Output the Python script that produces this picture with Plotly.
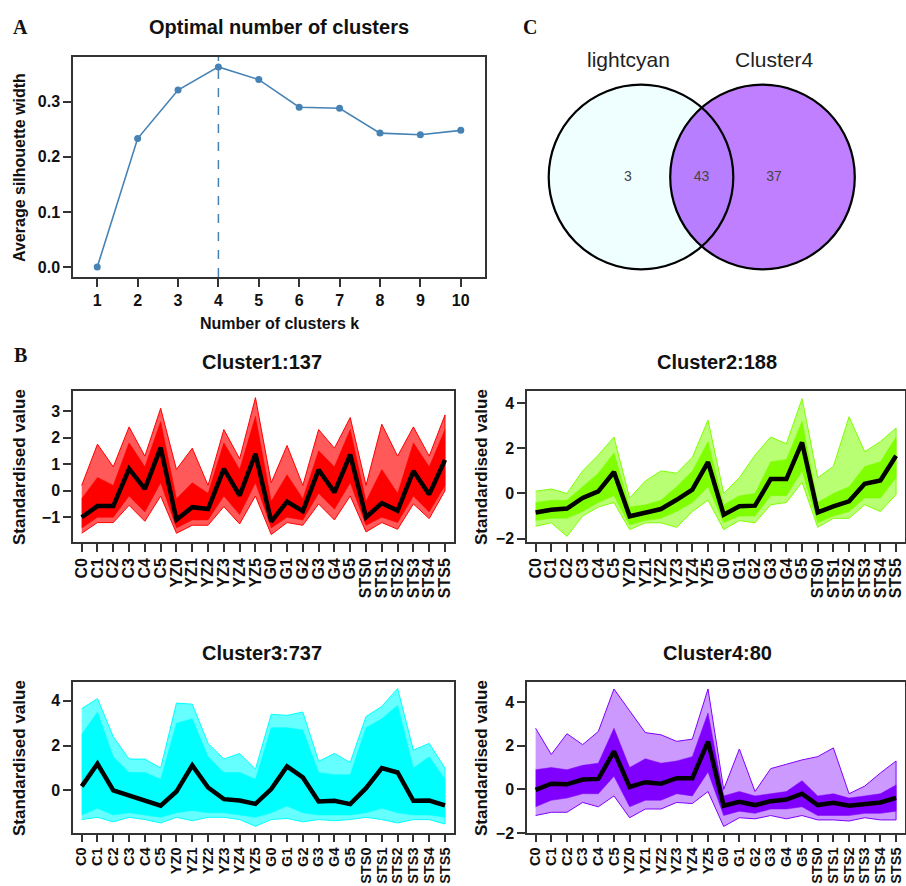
import plotly.graph_objects as go

W, H = 906, 886

# ---------------- data ----------------
k_values = list(range(1, 11))
silhouette = [0.0, 0.233, 0.321, 0.363, 0.340, 0.290, 0.288, 0.243, 0.240, 0.248]
optimal_k = 4

samples = ["C0", "C1", "C2", "C3", "C4", "C5",
           "YZ0", "YZ1", "YZ2", "YZ3", "YZ4", "YZ5",
           "G0", "G1", "G2", "G3", "G4", "G5",
           "STS0", "STS1", "STS2", "STS3", "STS4", "STS5"]

cluster_titles = ["Cluster1:137", "Cluster2:188", "Cluster3:737", "Cluster4:80"]
cluster_colors = ["#FF0000", "#7FFF00", "#00FFFF", "#8000FF"]

c1_mean = [-1.00, -0.58, -0.58, 0.82, 0.07, 1.62, -1.09, -0.62, -0.69, 0.82, -0.18, 1.39,
           -1.16, -0.41, -0.77, 0.79, -0.06, 1.36, -1.00, -0.47, -0.75, 0.74, -0.14, 1.16]
c1_max = [0.20, 1.75, 0.90, 2.40, 1.30, 3.10, 0.80, 1.60, 0.20, 2.30, 1.20, 3.50,
          0.30, 1.70, 0.20, 2.30, 1.60, 2.75, 0.20, 2.50, 1.30, 2.40, 1.30, 2.85]
c1_min = [-1.60, -1.20, -1.20, -0.55, -1.15, -0.20, -1.60, -1.30, -1.30, -0.60, -1.25, -0.20,
          -1.65, -1.20, -1.30, -0.50, -1.10, -0.20, -1.55, -1.20, -1.45, -0.50, -1.05, 0.00]
c1_core_hi = [-0.30, 0.50, 0.20, 1.80, 0.90, 2.60, -0.30, 0.30, -0.10, 1.80, 0.80, 2.80,
              -0.40, 0.60, -0.30, 1.50, 0.90, 2.30, -0.40, 0.80, -0.10, 1.80, 0.90, 2.30]
c1_core_lo = [-1.40, -1.00, -1.00, -0.20, -0.80, 0.30, -1.40, -1.10, -1.10, -0.20, -0.90, 0.30,
              -1.40, -1.00, -1.10, -0.10, -0.70, 0.30, -1.30, -1.00, -1.20, -0.20, -0.80, 0.20]

c2_mean = [-0.84, -0.72, -0.67, -0.20, 0.09, 0.95, -1.01, -0.87, -0.69, -0.28, 0.17, 1.39,
           -0.94, -0.57, -0.54, 0.64, 0.64, 2.26, -0.84, -0.57, -0.35, 0.43, 0.58, 1.67]
c2_max = [0.10, 0.20, 0.00, 1.00, 1.70, 2.50, -0.20, 0.55, 1.00, 0.90, 1.60, 3.25,
          0.00, 0.70, 1.70, 2.50, 2.20, 4.20, 0.70, 1.20, 3.40, 1.85, 2.30, 2.90]
c2_min = [-1.45, -1.30, -1.90, -1.00, -0.60, -0.40, -1.60, -1.30, -1.30, -1.50, -0.80, -0.30,
          -1.60, -1.20, -1.30, -0.50, -0.40, 0.50, -1.50, -1.10, -1.10, -0.50, -0.80, -0.05]
c2_core_hi = [-0.40, -0.30, -0.30, 0.30, 0.90, 1.80, -0.60, -0.50, -0.30, 0.30, 1.00, 2.30,
              -0.50, -0.10, 0.00, 1.40, 1.50, 3.20, -0.40, 0.00, 0.30, 1.20, 1.40, 2.50]
c2_core_lo = [-1.20, -1.10, -1.10, -0.80, -0.40, -0.10, -1.40, -1.20, -1.10, -0.80, -0.40, 0.30,
              -1.30, -1.00, -1.00, -0.10, -0.10, 1.00, -1.30, -1.00, -0.80, -0.20, -0.20, 0.70]

c3_mean = [0.18, 1.19, 0.00, -0.24, -0.45, -0.68, -0.05, 1.12, 0.13, -0.39, -0.45, -0.60,
           0.06, 1.07, 0.58, -0.49, -0.46, -0.61, 0.10, 1.00, 0.80, -0.46, -0.45, -0.67]
c3_max = [3.65, 4.10, 2.40, 1.40, 1.40, 1.00, 3.90, 3.85, 2.10, 1.40, 1.65, 0.95,
          3.40, 3.35, 3.50, 1.30, 1.65, 1.25, 3.30, 3.75, 4.55, 1.80, 2.10, 1.00]
c3_min = [-1.30, -1.20, -1.40, -1.20, -1.30, -1.45, -1.20, -1.35, -1.20, -1.20, -1.30, -1.60,
          -1.30, -1.25, -1.40, -1.30, -1.35, -1.30, -1.20, -1.30, -1.45, -1.30, -1.30, -1.50]
c3_core_hi = [2.50, 3.50, 1.50, 0.80, 0.80, 0.50, 3.00, 3.20, 1.50, 0.80, 0.80, 0.50,
              2.80, 2.80, 2.70, 0.80, 0.70, 0.70, 2.80, 3.20, 3.80, 1.00, 1.50, 0.50]
c3_core_lo = [-1.10, -0.80, -1.10, -1.00, -1.10, -1.20, -1.00, -0.90, -1.00, -1.00, -1.10, -1.20,
              -1.00, -0.70, -1.00, -1.10, -1.10, -1.10, -1.00, -0.80, -1.00, -1.10, -1.10, -1.20]

c4_mean = [-0.02, 0.26, 0.23, 0.45, 0.48, 1.74, 0.11, 0.33, 0.26, 0.51, 0.51, 2.19,
           -0.75, -0.57, -0.72, -0.54, -0.47, -0.20, -0.72, -0.62, -0.75, -0.65, -0.60, -0.39]
c4_max = [2.80, 1.60, 2.55, 2.05, 2.65, 4.60, 3.60, 2.60, 2.50, 2.20, 2.30, 4.60,
          0.00, 1.85, -0.10, 0.95, 1.15, 1.35, 1.50, 1.90, -0.20, 0.15, 0.75, 1.30]
c4_min = [-1.20, -1.05, -1.05, -0.60, -0.80, -0.30, -1.30, -0.90, -0.90, -0.60, -0.65, -0.10,
          -1.70, -1.30, -1.35, -1.20, -1.35, -1.20, -1.40, -1.40, -1.45, -1.30, -1.40, -1.40]
c4_core_hi = [0.90, 1.00, 0.90, 1.10, 1.20, 2.80, 1.00, 1.40, 1.20, 1.30, 1.50, 3.50,
              -0.30, -0.10, -0.30, -0.20, -0.10, 0.40, -0.30, -0.20, -0.40, -0.30, -0.20, 0.20]
c4_core_lo = [-0.80, -0.50, -0.40, -0.20, -0.20, 0.60, -0.80, -0.50, -0.50, -0.20, -0.30, 0.80,
              -1.20, -1.00, -1.10, -0.90, -0.90, -0.80, -1.20, -1.20, -1.20, -1.10, -1.10, -1.00]

venn_labels = ["lightcyan", "Cluster4"]
venn_counts = [3, 43, 37]          # only left, both, only right
venn_colors = ["lightcyan", "#8000FF"]

clusters = [
    (c1_mean, c1_max, c1_min, c1_core_hi, c1_core_lo),
    (c2_mean, c2_max, c2_min, c2_core_hi, c2_core_lo),
    (c3_mean, c3_max, c3_min, c3_core_hi, c3_core_lo),
    (c4_mean, c4_max, c4_min, c4_core_hi, c4_core_lo),
]
outer_alpha = [0.65, 0.55, 0.6, 0.4]

# ---------------- layout helpers (pixel -> paper) ----------------
def xd(x0, x1):
    return [x0 / W, x1 / W]

def yd(y0, y1):
    return [1 - y1 / H, 1 - y0 / H]

FONT = "Liberation Sans, Arial, sans-serif"
SERIF = "Liberation Serif, Times New Roman, serif"
FRAME = "#333333"

fig = go.Figure()

# ---------------- Panel A ----------------
fig.add_trace(go.Scatter(
    x=k_values, y=silhouette, mode="lines+markers",
    line=dict(color="#4682B4", width=1.6),
    marker=dict(color="#4682B4", size=7),
    xaxis="x", yaxis="y", showlegend=False))

def axis_style(size=16, ticklen=8):
    return dict(showline=True, mirror=True, linecolor=FRAME, linewidth=1.5,
                ticks="outside", ticklen=ticklen, tickwidth=1.5, tickcolor=FRAME,
                showgrid=False, zeroline=False, automargin=False,
                tickfont=dict(family=FONT, size=size, color="#111111", weight="bold"))

layout = dict(
    width=W, height=H, margin=dict(l=0, r=0, t=0, b=0),
    paper_bgcolor="white", plot_bgcolor="white", showlegend=False,
    xaxis=dict(domain=xd(73, 485), range=[0.4, 10.6], tickvals=k_values,
               ticktext=[str(k) for k in k_values], anchor="y", **axis_style()),
    yaxis=dict(domain=yd(57, 277), range=[-0.018, 0.381], tickvals=[0, 0.1, 0.2, 0.3],
               tickformat=".1f", anchor="x", **axis_style()),
)

shapes = [dict(type="line", xref="x", yref="y domain", x0=optimal_k, x1=optimal_k,
               y0=0, y1=1, line=dict(color="#4682B4", width=1.5, dash="dash"))]

annotations = []

def text(x, y, s, size, bold=True, family=FONT, color="#111111", angle=0):
    annotations.append(dict(
        x=x / W, y=1 - y / H, xref="paper", yref="paper", text=s, showarrow=False,
        xanchor="center", yanchor="middle", textangle=angle,
        font=dict(family=family, size=size, color=color, weight="bold" if bold else "normal")))

text(20, 27, "A", 20, family=SERIF)
text(530, 27, "C", 20, family=SERIF)
text(20, 355, "B", 20, family=SERIF)
text(279, 27, "Optimal number of clusters", 20)
text(279, 323, "Number of clusters k", 16)
text(19, 168, "Average silhouette width", 16, angle=-90)

# ---------------- Panel B ----------------
frames = [
    dict(x=(73, 454), y=(391, 542), rng=[-1.93, 3.75], ticks=[-1, 0, 1, 2, 3],
         title=(262, 362), ytitle=(19, 467), xfont=16, xlen=8),
    dict(x=(527, 905), y=(391, 542), rng=[-2.15, 4.54], ticks=[-2, 0, 2, 4],
         title=(717, 362), ytitle=(481, 467), xfont=16, xlen=8),
    dict(x=(73, 454), y=(682, 833), rng=[-1.90, 4.84], ticks=[0, 2, 4],
         title=(262, 653), ytitle=(19, 758), xfont=14.5, xlen=7),
    dict(x=(527, 905), y=(682, 833), rng=[-2.00, 4.92], ticks=[-2, 0, 2, 4],
         title=(717, 653), ytitle=(481, 758), xfont=14.5, xlen=7),
]

idx = list(range(len(samples)))

def rgba(hexc, a):
    h = hexc.lstrip("#")
    r, g, b = int(h[0:2], 16), int(h[2:4], 16), int(h[4:6], 16)
    return f"rgba({r},{g},{b},{a})"

for i, (fr, (mean, mx, mn, chi, clo), col, ttl, oa) in enumerate(
        zip(frames, clusters, cluster_colors, cluster_titles, outer_alpha)):
    n = i + 2
    xa, ya = f"x{n}", f"y{n}"
    # outer envelope (sparse lines)
    fig.add_trace(go.Scatter(
        x=idx + idx[::-1], y=mx + mn[::-1], mode="lines", fill="toself",
        fillcolor=rgba(col, oa), line=dict(color=col, width=1.0),
        xaxis=xa, yaxis=ya, showlegend=False, hoverinfo="skip"))
    # dense core
    fig.add_trace(go.Scatter(
        x=idx + idx[::-1], y=chi + clo[::-1], mode="lines", fill="toself",
        fillcolor=col, line=dict(color=col, width=0.5),
        xaxis=xa, yaxis=ya, showlegend=False, hoverinfo="skip"))
    # centroid line
    fig.add_trace(go.Scatter(
        x=idx, y=mean, mode="lines", line=dict(color="black", width=4.5),
        xaxis=xa, yaxis=ya, showlegend=False))

    layout[f"xaxis{n}"] = dict(domain=xd(*fr["x"]), range=[-0.55, 23.57], tickvals=idx,
                               ticktext=samples, tickangle=-90, anchor=ya,
                               **axis_style(fr["xfont"], fr["xlen"]))
    layout[f"yaxis{n}"] = dict(domain=yd(*fr["y"]), range=fr["rng"], tickvals=fr["ticks"],
                               anchor=xa, **axis_style())
    text(fr["title"][0], fr["title"][1], ttl, 20)
    text(fr["ytitle"][0], fr["ytitle"][1], "Standardised value", 17, angle=-90)

# ---------------- Panel C (Venn) ----------------
layout["xaxis6"] = dict(domain=xd(500, 906), range=[500, 906], visible=False,
                        anchor="y6", fixedrange=True)
layout["yaxis6"] = dict(domain=yd(0, 340), range=[340, 0], visible=False,
                        anchor="x6", fixedrange=True)

venn_centers = [(641, 177), (762.5, 177)]
venn_r = 92.3
for (cx, cy), c in zip(venn_centers, venn_colors):
    shapes.append(dict(type="circle", xref="x6", yref="y6",
                       x0=cx - venn_r, x1=cx + venn_r, y0=cy - venn_r, y1=cy + venn_r,
                       fillcolor=c, opacity=0.5, line=dict(width=0), layer="below"))
for (cx, cy) in venn_centers:
    shapes.append(dict(type="circle", xref="x6", yref="y6",
                       x0=cx - venn_r, x1=cx + venn_r, y0=cy - venn_r, y1=cy + venn_r,
                       fillcolor="rgba(0,0,0,0)", line=dict(color="black", width=2.2),
                       layer="above"))

venn_text_x = [628, 701.5, 774]
fig.add_trace(go.Scatter(
    x=venn_text_x, y=[177] * 3, mode="text", text=[str(v) for v in venn_counts],
    textfont=dict(family=FONT, size=14, color="#444444"),
    xaxis="x6", yaxis="y6", showlegend=False, hoverinfo="skip"))
for lx, lab in zip([628, 774], venn_labels):
    text(lx, 60, lab, 21, bold=False, color="#222222")

layout["shapes"] = shapes
layout["annotations"] = annotations
fig.update_layout(**layout)

fig.write_html("out.html", config={"displayModeBar": False},
               post_script="document.body.style.margin='0';document.body.style.overflow='hidden';")
